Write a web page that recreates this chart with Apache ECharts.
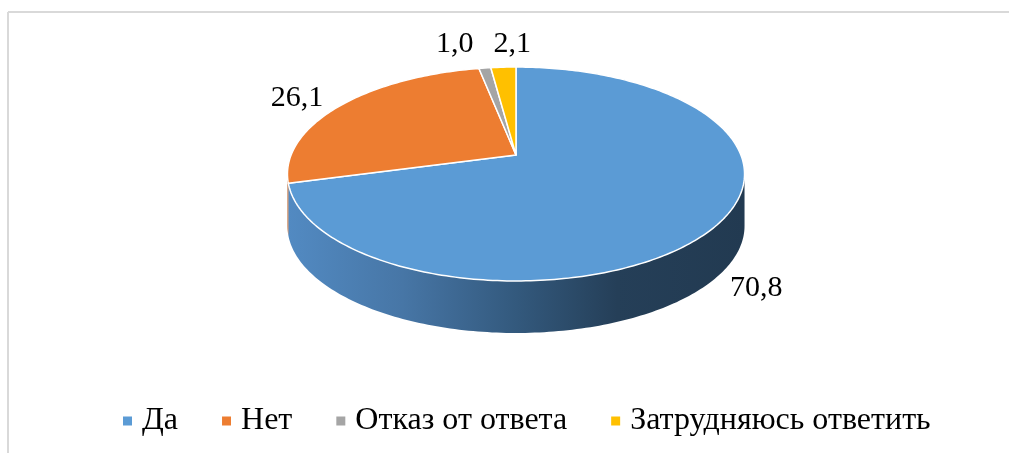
<!DOCTYPE html>
<html><head><meta charset="utf-8">
<script src="https://cdn.jsdelivr.net/npm/echarts@6/dist/echarts.min.js"></script>
<style>html,body{margin:0;padding:0;background:#fff}#c{width:1009px;height:453px}</style>
</head><body><div id="c"></div>
<script>
// ---- data ----
const categories = ['Да', 'Нет', 'Отказ от ответа', 'Затрудняюсь ответить'];
const values = [70.8, 26.1, 1.0, 2.1];
const valueLabels = ['70,8', '26,1', '1,0', '2,1'];

// ---- styles / layout ----
const colors = ['#5B9BD5', '#ED7D31', '#A5A5A5', '#FFC000'];
const wallColors = [null, '#b9612a', '#7f7f7f', '#c69500'];
const labelNudge = [[-6, -6], [-13, 2], [-25, -10], [11, -9]];
const FONT = 'Liberation Serif';
// perspective disk projection
const G = { cx: 516, cy: 155, A: 224.9, B: 103.6, k: 0.1776, h: 52 };

function proj(phi, r) {
  const u = r * Math.sin(phi), v = -r * Math.cos(phi);
  const w = 1 - G.k * v;
  return [G.cx + G.A * u / w, G.cy + G.B * v / w];
}
const total = values.reduce((a, b) => a + b, 0);
const starts = [];
{ let acc = 0; values.forEach(v => { starts.push(acc); acc += v; }); }
const phiR = Math.PI - Math.acos(G.k);
const phiL = Math.PI + Math.acos(G.k);

const blueWall = new echarts.graphic.LinearGradient(288, 0, 745, 0, [
  { offset: 0, color: '#528ac2' },
  { offset: 0.25, color: '#4776a6' },
  { offset: 0.5, color: '#33597d' },
  { offset: 0.72, color: '#253f58' },
  { offset: 1, color: '#223a51' }
], true);

function arcPts(a, b, r, dy) {
  const n = Math.max(2, Math.ceil((b - a) / (Math.PI / 180)));
  const pts = [];
  for (let j = 0; j <= n; j++) {
    const p = proj(a + (b - a) * j / n, r);
    pts.push([p[0], p[1] + dy]);
  }
  return pts;
}

function renderItem(params, api) {
  const i = params.dataIndex;
  const val = api.value(0);
  const a = starts[i] / total * 2 * Math.PI;
  const b = (starts[i] + val) / total * 2 * Math.PI;
  const children = [];
  // visible front wall
  const a0 = Math.max(a, phiR), b0 = Math.min(b, phiL);
  if (a0 < b0) {
    const top = arcPts(a0, b0, 1, 0);
    const bot = arcPts(a0, b0, 1, G.h).reverse();
    children.push({
      type: 'polygon', z2: 1,
      shape: { points: top.concat(bot) },
      style: { fill: i === 0 ? blueWall : wallColors[i], stroke: null }
    });
  }
  // top face
  const face = [[G.cx, G.cy]].concat(arcPts(a, b, 1, 0));
  children.push({
    type: 'polygon', z2: 5,
    shape: { points: face },
    style: { fill: colors[i], stroke: '#ffffff', lineWidth: 1.5, lineJoin: 'round' }
  });
  // label
  const mid = (a + b) / 2;
  const lp = proj(mid, 1.2);
  const front = -Math.cos(mid) > 0;
  children.push({
    type: 'text', z2: 10,
    x: lp[0] + labelNudge[i][0],
    y: lp[1] + (front ? G.h : 0) + labelNudge[i][1],
    style: {
      text: valueLabels[i], fill: '#000', fontFamily: FONT, fontSize: 30,
      align: 'center', verticalAlign: 'middle'
    }
  });
  return { type: 'group', children };
}

const chart = echarts.init(document.getElementById('c'), null, { renderer: 'canvas' });
chart.setOption({
  animation: false,
  color: colors,
  graphic: [
    { type: 'line', shape: { x1: 8, y1: 12, x2: 1009, y2: 12 }, style: { stroke: '#d9d9d9', lineWidth: 2 } },
    { type: 'line', shape: { x1: 8, y1: 12, x2: 8, y2: 453 }, style: { stroke: '#d9d9d9', lineWidth: 2 } }
  ],
  legend: {
    data: categories,
    left: 118, top: 400,
    icon: 'rect', itemWidth: 9, itemHeight: 9, itemGap: 44,
    selectedMode: false,
    textStyle: { fontFamily: FONT, fontSize: 32, color: '#000', padding: [0, 0, 0, 5] }
  },
  series: [
    {
      type: 'custom', coordinateSystem: 'none', silent: true,
      renderItem: renderItem,
      data: values.map((v, i) => ({ name: categories[i], value: v }))
    },
    {
      type: 'pie', radius: [0, 0], center: [-100, -100], silent: true,
      label: { show: false }, labelLine: { show: false },
      data: values.map((v, i) => ({ name: categories[i], value: v }))
    }
  ]
});
</script></body></html>
